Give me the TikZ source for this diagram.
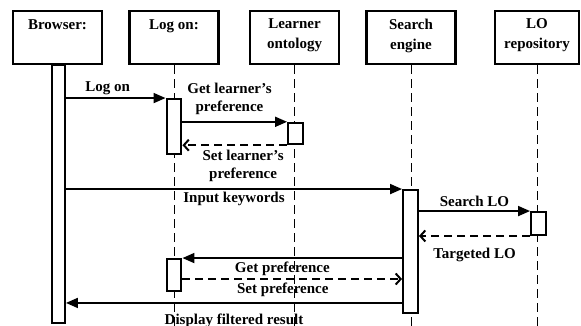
\documentclass[tikz,border=0pt]{standalone}
\usepackage{fontspec}
\setmainfont{Liberation Serif}
\usetikzlibrary{positioning}
\usetikzlibrary{arrows.meta}

\begin{document}
\begin{tikzpicture}
  [ x=1pt, y=-1pt,
    head/.style={draw=black, line width=2.8pt, minimum width=89pt,
      minimum height=53pt, inner sep=0pt},
    htext/.style={align=center, inner sep=0pt,
      font=\fontsize{15}{20}\selectfont\bfseries},
    life/.style={line width=0.9pt, dash pattern=on 9pt off 5pt},
    bar/.style={draw=black, fill=white, line width=2.4pt,
      minimum width=14.5pt, inner sep=0pt},
    msg/.style={line width=1.8pt, -{Triangle[length=12pt,width=10pt]}},
    ret/.style={line width=1.8pt, dash pattern=on 8pt off 5pt,
      -{Straight Barb[length=5pt,width=11pt,line width=2pt]}},
    lbl/.style={align=center, inner sep=2pt,
      font=\fontsize{15}{18}\selectfont\bfseries}
  ]
  \useasboundingbox (0,0) rectangle (581,326);

  % objects
  \node (browser) at ( 57.5,37.5) [head] {};
  \node (logon)   at (174.0,37.5) [head] {};
  \node (onto)    at (294.5,37.5) [head] {};
  \node (search)  at (411.0,37.5) [head] {};
  \node (repo)    at (537.0,37.5) [head, minimum width=84pt] {};

  \node (browserT) [htext, below=10pt of browser.north] {Browser:};
  \node (logonT)   [htext, below=10pt of logon.north]   {Log on:};
  \node (ontoT)    [htext, below=9pt of onto.north]     {Learner\\ontology};
  \node (searchT)  [htext, below=9pt of search.north]   {Search\\engine};
  \node (repoT)    [htext, below=9pt of repo.north]     {LO\\repository};

  % lifelines
  \draw [life] (logon.south)  -- ++(0,265);
  \draw [life] (onto.south)   -- ++(0,265);
  \draw [life] (search.south) -- ++(0,265);
  \draw [life] (repo.south)   -- ++(0,265);

  % activations
  \node (actB)  at ( 58.5,194.0) [bar, minimum width=12.5pt, minimum height=258pt] {};
  \node (actL1) at (174.0,126.5) [bar, minimum height=54.5pt] {};
  \node (actO)  at (295.5,133.5) [bar, minimum height=21pt] {};
  \node (actS)  at (410.5,251.5) [bar, minimum height=122.5pt] {};
  \node (actR)  at (538.5,223.5) [bar, minimum height=22.5pt] {};
  \node (actL2) at (174.0,275.0) [bar, minimum height=31.5pt] {};

  % messages
  \draw [msg] (actL1.north west -| actB.east) -- (actL1.north west)
    node [lbl, pos=0.42, above=0pt] {Log on};
  \draw [msg] (actO.north west -| actL1.east) -- (actO.north west)
    node [lbl, pos=0.45, above=4pt] {Get learner's\\preference};
  \draw [ret] (actO.south west) -- (actO.south west -| actL1.east)
    node [lbl, pos=0.42, below=2pt] {Set learner's\\preference};
  \draw [msg] (actS.north west -| actB.east) -- (actS.north west)
    node [lbl, midway, below=0pt] {Input keywords};
  \draw [msg] (actR.north west -| actS.east) -- (actR.north west)
    node [lbl, midway, above=2pt] {Search LO};
  \draw [ret] (actR.south west) -- (actR.south west -| actS.east)
    node [lbl, midway, below=9pt] {Targeted LO};
  \draw [msg] (actL2.north east -| actS.west) -- (actL2.north east)
    node [lbl, pos=0.545, below=1pt] {Get preference};
  \draw [ret] ([yshift=-4pt]actL2.east) -- ([yshift=-4pt]actL2.east -| actS.west)
    node [lbl, pos=0.457, below=1pt] {Set preference};
  \draw [msg] ([yshift=11pt]actS.south west) -- ([yshift=11pt]actS.south west -| actB.east)
    node [lbl, midway, below=8pt] {Display filtered result};
\end{tikzpicture}
\end{document}
